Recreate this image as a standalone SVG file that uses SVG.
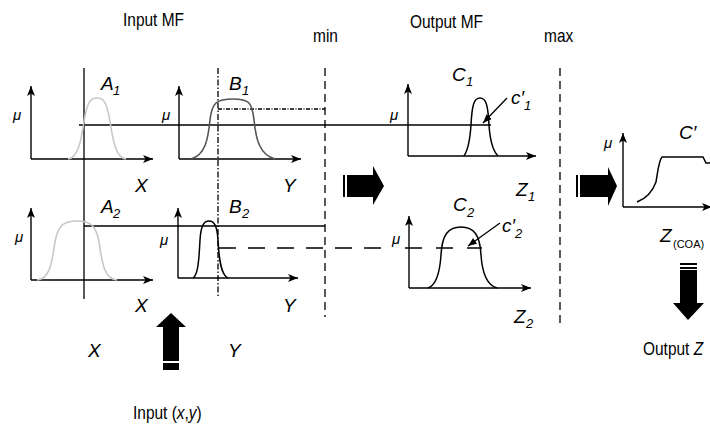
<svg xmlns="http://www.w3.org/2000/svg" width="710" height="427" viewBox="0 0 710 427">
<defs>
<marker id="ah" viewBox="0 0 10 8" refX="10" refY="4" markerWidth="10" markerHeight="8" markerUnits="userSpaceOnUse" orient="auto">
<path d="M0,0 L10,4 L0,8 L2.5,4 Z" fill="#000"/>
</marker>
<marker id="ps" viewBox="0 0 10 8" refX="10" refY="4" markerWidth="9" markerHeight="7" markerUnits="userSpaceOnUse" orient="auto">
<path d="M0,0 L10,4 L0,8 Z" fill="#000"/>
</marker>
<style>
.ax{stroke:#000;stroke-width:1.4;fill:none;marker-end:url(#ah)}
.ln{stroke:#000;stroke-width:1.3;fill:none}
.dash{stroke:#000;stroke-width:1.3;fill:none;stroke-dasharray:8,5}
.t{font-family:"Liberation Sans",Arial,sans-serif;font-size:18px;fill:#000}
.i{font-family:"Liberation Sans",Arial,sans-serif;font-style:italic;font-size:19px;fill:#000}
.s{font-family:"Liberation Sans",Arial,sans-serif;font-style:italic;font-size:13px;fill:#000}
.mu{font-family:"Liberation Sans",Arial,sans-serif;font-style:italic;font-size:15px;fill:#000}
.blk{fill:#000}
</style>
</defs>
<rect width="710" height="427" fill="#fff"/>

<g id="titles">
<text class="t" transform="translate(123,26) scale(0.86,1)">Input MF</text>
<text class="t" transform="translate(313,42) scale(0.86,1)">min</text>
<text class="t" transform="translate(410,28) scale(0.86,1)">Output MF</text>
<text class="t" transform="translate(544,42) scale(0.86,1)">max</text>
</g>

<g id="connectors">
<line class="ln" x1="84" y1="68" x2="84" y2="299"/>
<line class="ln" x1="79" y1="125" x2="491" y2="125"/>
<line class="ln" x1="84" y1="226" x2="325" y2="226"/>
<line class="ln" x1="218" y1="68" x2="218" y2="298" stroke-dasharray="6,2,1.5,2" stroke-width="1"/>
<line class="ln" x1="218" y1="109" x2="325" y2="109" stroke-dasharray="4,1.5,1,1.5" stroke-width="1"/>
<line class="dash" x1="325" y1="68" x2="325" y2="317"/>
<line class="dash" x1="560" y1="68" x2="560" y2="327"/>
<line class="ln" x1="219" y1="248" x2="392" y2="248" stroke-dasharray="17,12"/>
<line class="ln" x1="405" y1="248" x2="482" y2="248" stroke-dasharray="17,14"/>
<line class="ln" x1="507" y1="98" x2="483" y2="123" stroke-width="1.2" marker-end="url(#ps)"/>
<line class="ln" x1="500" y1="223" x2="468" y2="246" stroke-width="1.2" marker-end="url(#ps)"/>
</g>

<g id="A1">
<line class="ax" x1="31" y1="159" x2="31" y2="86"/>
<line class="ax" x1="31" y1="159" x2="153" y2="159"/>
<path d="M68,159 C80,158 82,132 85,116 C88,101 91,98 97,98 C103,98 106,101 109,116 C112,132 114,158 126,159" fill="none" stroke="#c8c8c8" stroke-width="1.6"/>
<text class="mu" x="13" y="120">μ</text>
<text class="i" x="101" y="90">A</text><text class="s" x="113" y="95">1</text>
<text class="i" x="135" y="192">X</text>
</g>

<g id="B1">
<line class="ax" x1="179" y1="159" x2="179" y2="86"/>
<line class="ax" x1="179" y1="159" x2="301" y2="159"/>
<path d="M191,159 C205,155 208,140 210,120 C212,102 217,99 233,99 C249,99 252,102 254,120 C256,140 260,155 275,159" fill="none" stroke="#555" stroke-width="1.6"/>
<text class="mu" x="162" y="120">μ</text>
<text class="i" x="229" y="90">B</text><text class="s" x="242" y="95">1</text>
<text class="i" x="283" y="192">Y</text>
</g>

<g id="A2">
<line class="ax" x1="31" y1="280" x2="31" y2="208"/>
<line class="ax" x1="31" y1="280" x2="153" y2="280"/>
<path d="M37,280 C50,279 52,262 55,242 C58,225 64,221 77,221 C90,221 96,225 99,242 C102,262 104,279 117,280" fill="none" stroke="#c8c8c8" stroke-width="1.6"/>
<text class="mu" x="15" y="242">μ</text>
<text class="i" x="101" y="213">A</text><text class="s" x="113" y="218">2</text>
<text class="i" x="135" y="312">X</text>
</g>

<g id="B2">
<line class="ax" x1="178" y1="278" x2="178" y2="208"/>
<line class="ax" x1="178" y1="278" x2="298" y2="278"/>
<path d="M193,278 C198,275 199,260 200,240 C201,225 204,221 209,221 C214,221 217,225 218,240 C219,260 221,275 228,278" fill="none" stroke="#000" stroke-width="1.5"/>
<text class="mu" x="160" y="245">μ</text>
<text class="i" x="229" y="213">B</text><text class="s" x="242" y="218">2</text>
<text class="i" x="283" y="312">Y</text>
</g>

<g id="C1">
<line class="ax" x1="408" y1="156" x2="408" y2="84"/>
<line class="ax" x1="408" y1="156" x2="536" y2="156"/>
<path d="M464,156 C468,150 470,140 471,125 C472,105 474,98 480,98 C486,98 488,105 489,125 C490,140 492,150 498,156" fill="none" stroke="#000" stroke-width="1.5"/>
<text class="mu" x="390" y="120">μ</text>
<text class="i" x="452" y="81">C</text><text class="s" x="466" y="86">1</text>
<text class="i" x="511" y="104">c′</text><text class="s" x="524" y="110">1</text>
<text class="i" x="516" y="196">Z</text><text class="s" x="528" y="201">1</text>
</g>

<g id="C2">
<line class="ax" x1="409" y1="288" x2="409" y2="216"/>
<line class="ax" x1="409" y1="288" x2="531" y2="288"/>
<path d="M428,288 C437,285 440,270 441,255 C442,235 448,227 461,227 C474,227 480,235 481,255 C482,270 486,285 497,288" fill="none" stroke="#000" stroke-width="1.5"/>
<text class="mu" x="392" y="244">μ</text>
<text class="i" x="453" y="211">C</text><text class="s" x="467" y="217">2</text>
<text class="i" x="502" y="232">c′</text><text class="s" x="515" y="238">2</text>
<text class="i" x="514" y="323">Z</text><text class="s" x="526" y="328">2</text>
</g>

<g id="Cprime">
<line class="ax" x1="623" y1="207" x2="623" y2="133"/>
<line class="ax" x1="623" y1="207" x2="712" y2="207"/>
<path d="M637,202 C645,199 652,193 656,182 C658,170 659,160 662,157 L703,157 L706,163 L710,163" fill="none" stroke="#000" stroke-width="1.5"/>
<text class="mu" x="604" y="148">μ</text>
<text class="i" x="679" y="139">C′</text>
<text class="i" x="660" y="242">Z</text><text class="s" x="673" y="248" style="font-style:normal;font-size:11px">(COA)</text>
</g>

<g id="arrow1">
<rect class="blk" x="343" y="175" width="2" height="22"/>
<polygon class="blk" points="347,175 373,175 373,166 384,186 373,205 373,197 347,197"/>
</g>
<g id="arrow2">
<rect class="blk" x="576" y="175" width="2" height="22"/>
<polygon class="blk" points="580,175 608,175 608,167 617,186 608,206 608,197 580,197"/>
</g>
<g id="inputArrow">
<polygon class="blk" points="163,361 163,327 156,327 171,313 186,327 179,327 179,361"/>
<rect class="blk" x="163" y="363" width="16" height="7"/>
</g>
<g id="outputArrow">
<rect class="blk" x="680" y="263" width="17" height="2"/>
<rect class="blk" x="680" y="267" width="17" height="2"/>
<polygon class="blk" points="680,270 697,270 697,303 704,303 688,320 673,303 680,303"/>
</g>

<g id="inputs">
<text class="i" x="88" y="357">X</text>
<text class="i" x="228" y="357">Y</text>
<text class="t" transform="translate(133,419) scale(0.86,1)">Input (<tspan font-style="italic">x</tspan>,<tspan font-style="italic">y</tspan>)</text>
<text class="t" transform="translate(643,355) scale(0.86,1)">Output <tspan font-style="italic">Z</tspan></text>
</g>
</svg>
